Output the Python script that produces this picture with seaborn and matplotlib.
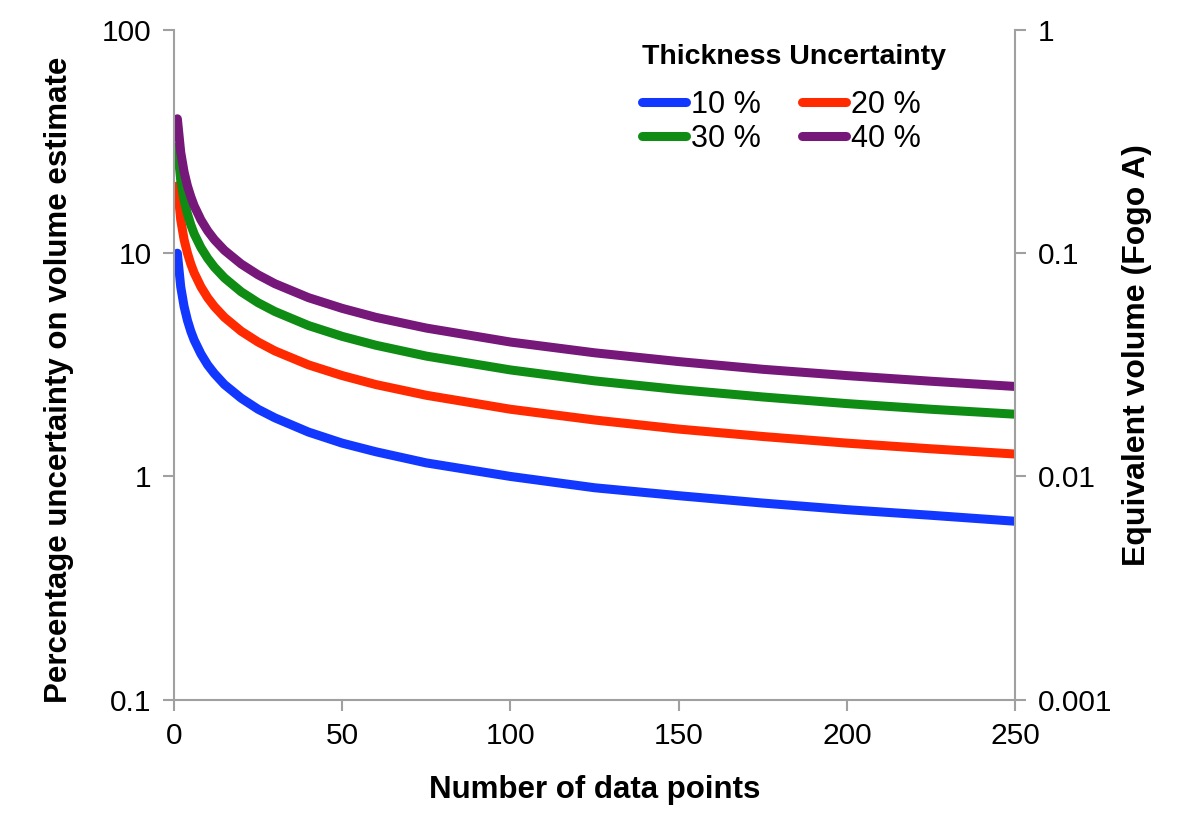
import matplotlib
matplotlib.use('Agg')
import seaborn as sns
import numpy as np
import pandas as pd
import matplotlib.pyplot as plt
from matplotlib.ticker import FixedLocator, FixedFormatter, NullLocator

# values
n_points = [1, 2, 3, 4, 5, 6, 8, 10, 12, 15, 20, 25, 30, 40, 50, 60, 75,
            100, 125, 150, 175, 200, 225, 250]
unc_10 = [10.0, 7.07, 5.77, 5.0, 4.47, 4.08, 3.54, 3.16, 2.89, 2.58, 2.24, 2.0, 1.83,
          1.58, 1.41, 1.29, 1.15, 1.0, 0.89, 0.82, 0.76, 0.71, 0.67, 0.63]
unc_20 = [20.0, 14.1, 11.5, 10.0, 8.94, 8.16, 7.07, 6.32, 5.77, 5.16, 4.47, 4.0, 3.65,
          3.16, 2.83, 2.58, 2.31, 2.0, 1.79, 1.63, 1.51, 1.41, 1.33, 1.26]
unc_30 = [30.0, 21.2, 17.3, 15.0, 13.4, 12.2, 10.6, 9.49, 8.66, 7.75, 6.71, 6.0, 5.48,
          4.74, 4.24, 3.87, 3.46, 3.0, 2.68, 2.45, 2.27, 2.12, 2.0, 1.90]
unc_40 = [40.0, 28.3, 23.1, 20.0, 17.9, 16.3, 14.1, 12.6, 11.5, 10.3, 8.94, 8.0, 7.30,
          6.32, 5.66, 5.16, 4.62, 4.0, 3.58, 3.27, 3.02, 2.83, 2.67, 2.53]
labels = ["10 %", "20 %", "30 %", "40 %"]
colors = ["#1238ff", "#ff2a00", "#0f8c14", "#76187a"]

left_ticks = [0.1, 1, 10, 100]
right_ticks = [0.001, 0.01, 0.1, 1]
x_ticks = [0, 50, 100, 150, 200, 250]

rows = []
for lab, vals in zip(labels, [unc_10, unc_20, unc_30, unc_40]):
    for n, v in zip(n_points, vals):
        rows.append({"n": n, "unc": v, "series": lab})
df = pd.DataFrame(rows)

sns.set_style("white")
plt.rcParams['font.family'] = ['Liberation Sans', 'DejaVu Sans']
plt.rcParams['text.color'] = 'black'
plt.rcParams['axes.labelcolor'] = 'black'
plt.rcParams['xtick.color'] = 'black'
plt.rcParams['ytick.color'] = 'black'

fig = plt.figure(figsize=(12, 8.32), dpi=100)
ax = fig.add_axes([0.145, 0.159, 0.701, 0.805])

sns.lineplot(data=df, x="n", y="unc", hue="series", palette=colors,
             linewidth=6.5, ax=ax, solid_capstyle='round')

ax.set_yscale("log")
ax.set_ylim(0.1, 100)
ax.set_xlim(0, 250)
ax.yaxis.set_major_locator(FixedLocator(left_ticks))
ax.yaxis.set_major_formatter(FixedFormatter([str(t) for t in left_ticks]))
ax.yaxis.set_minor_locator(NullLocator())
ax.set_xticks(x_ticks)

grey = "#a0a0a0"
for side in ["top", "right"]:
    ax.spines[side].set_visible(False)
for side in ["left", "bottom"]:
    ax.spines[side].set_color(grey)
    ax.spines[side].set_linewidth(1.5)
ax.tick_params(axis="both", direction="out", length=8, width=1.5, color=grey,
               labelcolor="black", labelsize=21.5, pad=8, left=True, bottom=True)

ax.set_xlabel("Number of data points", fontsize=22.5, fontweight="bold", labelpad=18)
ax.set_ylabel("Percentage uncertainty on volume estimate", fontsize=22.5,
              fontweight="bold")
ax.yaxis.set_label_coords(-0.119, 0.478)

ax2 = ax.twinx()
ax2.set_yscale("log")
ax2.set_ylim(0.001, 1)
ax2.yaxis.set_major_locator(FixedLocator(right_ticks))
ax2.yaxis.set_major_formatter(FixedFormatter([str(t) for t in right_ticks]))
ax2.yaxis.set_minor_locator(NullLocator())
for side in ["top", "left", "bottom"]:
    ax2.spines[side].set_visible(False)
ax2.spines["right"].set_color(grey)
ax2.spines["right"].set_linewidth(1.5)
ax2.tick_params(axis="y", direction="out", length=8, width=1.5, color=grey,
                labelcolor="black", labelsize=21.5, pad=8, right=True)
ax2.set_ylabel("Equivalent volume (Fogo A)", fontsize=23, fontweight="bold")
ax2.yaxis.set_label_coords(1.127, 0.515)

# row-wise legend order: 10 %, 20 % / 30 %, 40 %
handles, labs = ax.get_legend_handles_labels()
order = [0, 2, 1, 3]
leg = ax.legend([handles[i] for i in order], [labs[i] for i in order],
                title="Thickness Uncertainty", ncol=2, frameon=False,
                loc="upper right", bbox_to_anchor=(0.95, 1.02),
                fontsize=22, title_fontproperties={"weight": "bold", "size": 20.5},
                handlelength=1.45, handletextpad=0.15, columnspacing=1.35,
                labelspacing=0.15)
leg._legend_box.sep = 14
leg._legend_box.align = "left"
for h in leg.legend_handles:
    h.set_linewidth(6.5)
    h.set_solid_capstyle('round')

fig.savefig("out.png", dpi=100)
